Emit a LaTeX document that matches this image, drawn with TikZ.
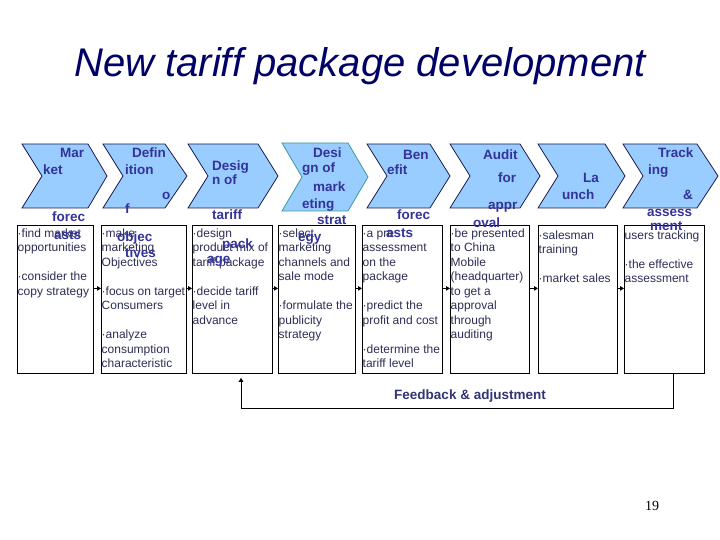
\documentclass[tikz,border=0pt]{standalone}
\usepackage{fontspec}
\setmainfont{Liberation Sans}
\newfontfamily\serifnum{Liberation Serif}
\usetikzlibrary{arrows.meta}
\definecolor{chevfill}{HTML}{99CCFF}
\definecolor{chevdraw}{HTML}{1C1C50}
\definecolor{chevteal}{HTML}{3A9A9A}
\definecolor{chevtext}{HTML}{333399}
\definecolor{titlecol}{HTML}{000066}
\definecolor{boxtext}{HTML}{2E2E55}
\definecolor{fbcol}{HTML}{333377}
\tikzset{
  chev/.style={fill=chevfill, draw=chevdraw, line width=0.8pt, line join=miter},
  ct/.style={font=\fontsize{13.5}{14}\bfseries\selectfont, text=chevtext, inner sep=0, anchor=base west},
  stepbox/.style={draw=black, line width=0.8pt, anchor=north west, inner sep=0, minimum height=148},
  btxt/.style={font=\fontsize{12}{14.5}\selectfont, text=boxtext, align=left, anchor=north west, inner sep=0},
  arr/.style={draw=black, line width=0.9pt, -{Triangle[length=4pt,width=4.5pt]}},
}
\begin{document}
\begin{tikzpicture}[x=1pt,y=-1pt]
\useasboundingbox (0,0) rectangle (720,540);
\fill[white] (0,0) rectangle (720,540);

% title
\node[font=\fontsize{40}{44}\itshape\selectfont, text=titlecol, anchor=base, inner sep=0] (title) at (360,77) {New tariff package development};

% chevrons
\foreach \l/\r/\t in {22/88/107, 103/165/187, 188/258/278}
  \draw[chev] (\l,144) -- (\r,144) -- (\t,176) -- (\r,208) -- (\l,208) -- (\l+20,176) -- cycle;
\draw[chev, draw=chevteal] (282,143) -- (348,143) -- (368,177) -- (348,211) -- (282,211) -- (302,177) -- cycle;
\foreach \l/\r/\t in {367/430/450, 450/520/540, 538/605/625, 623/697/718}
  \draw[chev] (\l,144) -- (\r,144) -- (\t,176) -- (\r,208) -- (\l,208) -- (\l+20,176) -- cycle;

% boxes
\node[stepbox, minimum width=76] (b1) at (17,225) {};
\node[stepbox, minimum width=85] (b2) at (101,225) {};
\node[stepbox, minimum width=80] (b3) at (192,225) {};
\node[stepbox, minimum width=77] (b4) at (278,225) {};
\node[stepbox, minimum width=80] (b5) at (362,225) {};
\node[stepbox, minimum width=79] (b6) at (450,225) {};
\node[stepbox, minimum width=79] (b7) at (538,225) {};
\node[stepbox, minimum width=80] (b8) at (624,225) {};

% box texts
\node[btxt] (t1) at (17.5,226.8) {\strut·find market\\opportunities\\[14.5pt]·consider the\\copy strategy};
\node[btxt] (t2) at (101.5,226.8) {\strut·make\\marketing\\Objectives\\[14.5pt]·focus on target\\Consumers\\[14.5pt]·analyze\\consumption\\characteristic};
\node[btxt] (t3) at (192.5,226.8) {\strut·design\\product mix of\\tariff package\\[14.5pt]·decide tariff\\level in\\advance};
\node[btxt] (t4) at (278.5,226.8) {\strut·select\\marketing\\channels and\\sale mode\\[14.5pt]·formulate the\\publicity\\strategy};
\node[btxt] (t5) at (362.5,226.8) {\strut·a pre\\assessment\\on the\\package\\[14.5pt]·predict the\\profit and cost\\[14.5pt]·determine the\\tariff level};
\node[btxt] (t6) at (450.5,226.8) {\strut·be presented\\to China\\Mobile\\(headquarter)\\to get a\\approval\\through\\auditing};
\node[btxt] (t7) at (538.5,228.8) {\strut·salesman\\training\\[14.5pt]·market sales};
\node[btxt] (t8) at (624.5,228.8) {\strut users tracking\\[14.5pt]·the effective\\assessment};

% chevron texts
\node[ct] (c1a) at (60,158) {Mar};
\node[ct] (c1b) at (43,175) {ket};
\node[ct] (c1c) at (52,222) {forec};
\node[ct] (c1d) at (54,240) {asts};
\node[ct] (c2a) at (132,158) {Defin};
\node[ct] (c2b) at (125,175) {ition};
\node[ct] (c2c) at (162,200) {o};
\node[ct] (c2d) at (125,214) {f};
\node[ct] (c2e) at (117,241) {objec};
\node[ct] (c2f) at (125,258) {tives};
\node[ct] (c3a) at (212,171) {Desig};
\node[ct] (c3b) at (212,185) {n of};
\node[ct] (c3c) at (212,220) {tariff};
\node[ct] (c3d) at (222,248) {pack};
\node[ct] (c3e) at (207,263) {age};
\node[ct] (c4a) at (313,158) {Desi};
\node[ct] (c4b) at (302,173) {gn of};
\node[ct] (c4c) at (313,192) {mark};
\node[ct] (c4d) at (302,209) {eting};
\node[ct] (c4e) at (317,225) {strat};
\node[ct] (c4f) at (298,241) {egy};
\node[ct] (c5a) at (403,160) {Ben};
\node[ct] (c5b) at (387,175) {efit};
\node[ct] (c5c) at (397,220) {forec};
\node[ct] (c5d) at (386,237) {asts};
\node[ct] (c6a) at (483,160) {Audit};
\node[ct] (c6b) at (498,183) {for};
\node[ct] (c6c) at (488,210) {appr};
\node[ct] (c6d) at (473,227) {oval};
\node[ct] (c7a) at (583,183) {La};
\node[ct] (c7b) at (562,200) {unch};
\node[ct] (c8a) at (658,158) {Track};
\node[ct] (c8b) at (648,175) {ing};
\node[ct] (c8c) at (683,200) {\&};
\node[ct] (c8d) at (647,217) {assess};
\node[ct] (c8e) at (650,230) {ment};

% arrows between boxes
\foreach \a/\b in {b1/b2, b2/b3, b3/b4, b4/b5, b5/b6, b6/b7, b7/b8}
  \draw[arr] ([yshift=11pt]\a.east) -- ([yshift=11pt]\b.west);

% feedback loop
\coordinate (fb1) at (673,408);
\coordinate (fb2) at (241,408);
\draw[arr, shorten >=4pt] (b8.south -| fb1) -- (fb1) -- (fb2) -- (b3.south -| fb2);
\node[font=\fontsize{13.5}{15}\bfseries\selectfont, text=fbcol, inner sep=0] (fb) at (470,396) {Feedback \& adjustment};

% page number
\node[font=\serifnum\fontsize{14}{16}\selectfont, anchor=base, inner sep=0] (pg) at (652,510) {19};
\end{tikzpicture}
\end{document}
